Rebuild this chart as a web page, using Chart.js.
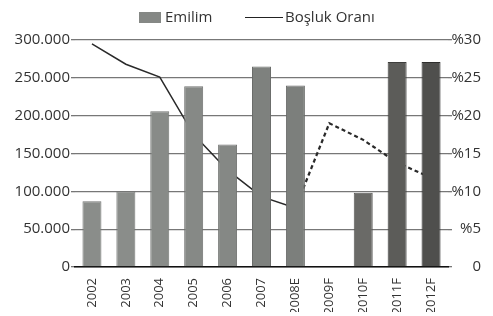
<!DOCTYPE html>
<html>
<head>
<meta charset="utf-8">
<script src="https://cdn.jsdelivr.net/npm/chart.js@4.4.1/dist/chart.umd.min.js"></script>
<style>
    html, body { margin: 0; padding: 0; background: #fff; }
    #wrap { position: relative; width: 493px; height: 316px; }
    #legend {
        position: absolute; top: 6px; left: 0; width: 493px; height: 20px;
        font: 15px 'Open Sans', sans-serif; color: #333;
    }
    #legend .box {
        position: absolute; left: 139px; top: 6px; width: 22px; height: 11px;
        background: #858885;
    }
    #legend .line {
        position: absolute; left: 245px; top: 11px; width: 38px; height: 0;
        border-top: 1.5px solid #222;
    }
    #legend .t1 { position: absolute; left: 165px; top: 0; }
    #legend .t2 { position: absolute; left: 285px; top: 0; }
</style>
</head>
<body>
<div id="wrap">
    <canvas id="chart" width="493" height="316"></canvas>
    <div id="legend">
        <span class="box"></span><span class="t1">Emilim</span>
        <span class="line"></span><span class="t2">Boşluk Oranı</span>
    </div>
</div>
<script>
const years = ['2002', '2003', '2004', '2005', '2006', '2007', '2008E', '2009F', '2010F', '2011F', '2012F'];
const emilim = [87000, 100000, 206000, 239000, 162000, 265000, 240000, null, 98000, 271000, 271000];
const boslukOrani = [29.5, 26.8, 25.1, 17.5, 12.8, 9.3, 7.8, 19, 16.8, 13.8, 11.8];
const leftTicks = [0, 50000, 100000, 150000, 200000, 250000, 300000];
const rightTicks = [0, 5, 10, 15, 20, 25, 30];

const barColors = ['#8a8d8a', '#8a8d8a', '#888b88', '#868986', '#858885', '#7e817e', '#7c7f7c', '#7c7f7c', '#6a6a67', '#5c5c59', '#4f4f4d'];
const barBorders = ['#747674', '#747674', '#727472', '#717371', '#707270', '#6a6c6a', '#686a68', '#686a68', '#555553', '#3e3e3c', '#2e2e2d'];
const fontFamily = "'Open Sans', sans-serif";
const dashedFrom = 6; // index of 2008E, line is dashed after this

new Chart(document.getElementById('chart'), {
    data: {
        labels: years,
        datasets: [
            {
                type: 'bar',
                label: 'Emilim',
                data: emilim,
                yAxisID: 'y',
                backgroundColor: barColors,
                borderColor: barBorders,
                borderWidth: 1,
                barPercentage: 0.56,
                categoryPercentage: 1,
                order: 1,
            },
            {
                type: 'line',
                label: 'Boşluk Oranı',
                data: boslukOrani,
                yAxisID: 'y1',
                borderColor: '#2a2a2a',
                borderWidth: 1.5,
                pointRadius: 0,
                tension: 0,
                segment: {
                    borderDash: (ctx) => (ctx.p0DataIndex >= dashedFrom ? [4, 3] : undefined),
                    borderWidth: (ctx) => (ctx.p0DataIndex >= dashedFrom ? 2.2 : 1.5),
                },
                order: 2,
            },
        ],
    },
    options: {
        responsive: false,
        animation: false,
        layout: { padding: { top: 40, right: 12, left: 0, bottom: 4 } },
        plugins: {
            legend: { display: false },
            tooltip: { enabled: false },
        },
        scales: {
            x: {
                grid: { display: false },
                border: { color: '#111', width: 1.5 },
                ticks: {
                    minRotation: 90,
                    maxRotation: 90,
                    crossAlign: 'far',
                    color: '#333',
                    font: { family: fontFamily, size: 13 },
                },
                afterFit: (scale) => { scale.height = 45; },
            },
            y: {
                position: 'left',
                min: 0,
                max: 300000,
                afterBuildTicks: (scale) => { scale.ticks = leftTicks.map((v) => ({ value: v })); },
                grid: { color: '#777', lineWidth: 1.3, tickLength: 4 },
                border: { display: false },
                ticks: {
                    padding: 1,
                    color: '#333',
                    font: { family: fontFamily, size: 15 },
                    callback: (v) => v.toLocaleString('de-DE'),
                },
                afterFit: (scale) => { scale.width = 75; },
            },
            y1: {
                position: 'right',
                min: 0,
                max: 30,
                afterBuildTicks: (scale) => { scale.ticks = rightTicks.map((v) => ({ value: v })); },
                grid: { drawOnChartArea: false, color: '#777', lineWidth: 1.3, tickLength: 4 },
                border: { display: false },
                ticks: {
                    crossAlign: 'far',
                    color: '#333',
                    font: { family: fontFamily, size: 15 },
                    callback: (v) => (v === 0 ? '0' : '%' + v),
                },
                afterFit: (scale) => { scale.width = 33; },
            },
        },
    },
});
</script>
</body>
</html>
